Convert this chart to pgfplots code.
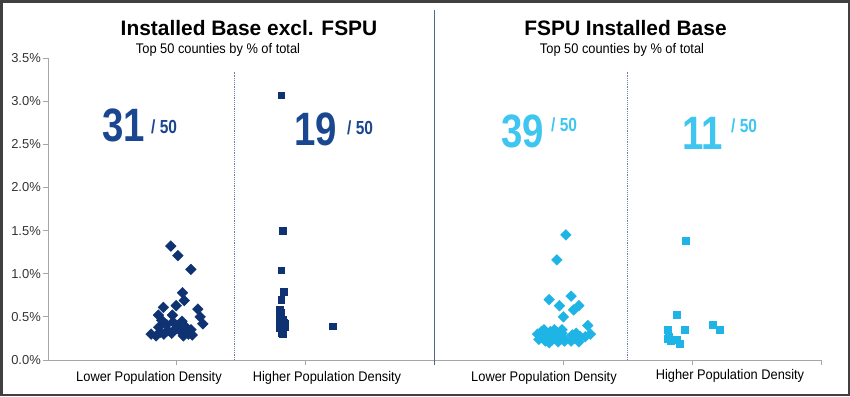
\documentclass[border=0pt]{standalone}
\usepackage{pgfplots}
\pgfplotsset{compat=1.18}
\usepackage{fontspec}
\setmainfont{Liberation Sans}
\newfontfamily\narrowfont[FakeStretch=0.92]{Liberation Sans}
\newfontfamily\bignumfont[FakeStretch=0.82]{Liberation Sans}
\definecolor{navy}{HTML}{0F3272}
\definecolor{navytxt}{HTML}{1A4790}
\definecolor{cyanm}{HTML}{1FB4E6}
\definecolor{cyantxt}{HTML}{3EC6F0}
\definecolor{divider}{HTML}{4A6A90}
\definecolor{dotcol}{HTML}{6A82A4}
\begin{document}
\begin{tikzpicture}
\begin{axis}[
  at={(48bp,-360bp)}, anchor=south west,
  scale only axis, width=773bp, height=302bp,
  xmin=0, xmax=6, ymin=0, ymax=3.5,
  axis lines*=left,
  axis line style={black!35, line width=0.8bp},
  xtick={1,2,3,4,5,6}, xticklabels={},
  ytick={0,0.5,1,1.5,2,2.5,3,3.5},
  yticklabels={0.0\%,0.5\%,1.0\%,1.5\%,2.0\%,2.5\%,3.0\%,3.5\%},
  tick align=outside, major tick length=5bp,
  tick style={black!35, line width=0.8bp},
  yticklabel style={font=\fontsize{13}{13}\selectfont, text=black!80, inner sep=2bp},
  clip=false,
]
% dividers
\addplot[divider, line width=1.2bp, forget plot] coordinates {(3,-0.06) (3,4.06)};
\addplot[dotcol, densely dotted, line width=1.2bp, forget plot] coordinates {(1.45,0) (1.45,3.34)};
\addplot[dotcol, densely dotted, line width=1.2bp, forget plot] coordinates {(4.5,0) (4.5,3.34)};
% Installed base excl FSPU, lower density (31)
\addplot[only marks, mark=square*, mark size=3.8bp, color=navy, mark options={rotate=45, fill=navy, draw=navy}] coordinates {
(0.953,1.32) (1.008,1.21) (1.109,1.05) (1.044,0.78) (1.057,0.69) (0.995,0.63)
(0.896,0.61) (1.163,0.59) (0.857,0.52) (1.181,0.50) (0.966,0.52) (1.202,0.42)
(0.883,0.46)
(0.80,0.30) (0.84,0.28) (0.87,0.32) (0.90,0.30) (0.93,0.34) (0.96,0.31)
(0.99,0.36) (1.01,0.40) (1.03,0.33) (1.05,0.28) (1.07,0.38) (1.09,0.30)
(1.11,0.35) (0.86,0.38) (0.92,0.41) (0.97,0.44) (1.04,0.45) (1.12,0.29)
};
% Installed base excl FSPU, higher density (19)
\addplot[only marks, mark=square*, mark size=3.3bp, color=navy, mark options={fill=navy, draw=navy}] coordinates {
(1.81,3.07) (1.82,1.50) (1.81,1.04) (1.83,0.79) (1.81,0.70) (1.80,0.59)
(1.81,0.55) (1.80,0.50) (1.82,0.47) (1.83,0.44) (1.84,0.42) (1.81,0.40)
(1.80,0.37) (1.82,0.35) (1.81,0.32) (1.82,0.30) (1.84,0.38) (1.80,0.45)
(2.21,0.39)
};
% FSPU, lower density (39)
\addplot[only marks, mark=square*, mark size=3.8bp, color=cyanm, mark options={rotate=45, fill=cyanm, draw=cyanm}] coordinates {
(4.02,1.45) (3.95,1.16) (4.06,0.74) (3.89,0.70) (3.97,0.63) (4.12,0.63)
(4.08,0.58) (4.00,0.50) (4.19,0.40) (4.21,0.30) (4.17,0.27)
(3.80,0.30) (3.81,0.24) (3.83,0.33) (3.84,0.27) (3.86,0.22) (3.87,0.31)
(3.88,0.26) (3.90,0.33) (3.91,0.23) (3.92,0.29) (3.94,0.25) (3.95,0.32)
(3.96,0.21) (3.97,0.28) (3.98,0.24) (3.99,0.31) (4.00,0.26) (4.01,0.22)
(3.85,0.35) (3.93,0.35) (3.89,0.20) (3.99,0.35)
(4.06,0.22) (4.07,0.29) (4.09,0.25) (4.10,0.31) (4.12,0.21) (4.13,0.27)
};
% FSPU, higher density (11)
\addplot[only marks, mark=square*, mark size=3.5bp, color=cyanm, mark options={fill=cyanm, draw=cyanm}] coordinates {
(4.95,1.38) (4.88,0.53) (4.81,0.35) (4.94,0.35) (5.16,0.41) (5.21,0.35)
(4.81,0.25) (4.83,0.22) (4.88,0.23) (4.90,0.19) (4.82,0.27)
};
\end{axis}
\begin{scope}[x=1bp, y=-1bp]
% titles
\node[anchor=base, inner sep=0, font=\fontsize{21}{21}\selectfont\bfseries] at (249,35) {Installed Base excl. FSPU};
\node[anchor=base, inner sep=0, font=\fontsize{21}{21}\selectfont\bfseries] at (625.5,35) {FSPU Installed Base};
\node[anchor=base, inner sep=0, font=\narrowfont\fontsize{14}{14}\selectfont] at (218,53) {Top 50 counties by \% of total};
\node[anchor=base, inner sep=0, font=\narrowfont\fontsize{14}{14}\selectfont] at (622,53) {Top 50 counties by \% of total};
% big numbers
\node[anchor=base west, inner sep=0, text=navytxt, font=\bignumfont\bfseries\fontsize{47}{47}\selectfont] at (102,141) {31};
\node[anchor=base west, inner sep=0, text=navytxt, font=\bignumfont\bfseries\fontsize{19}{19}\selectfont] at (151,133) {/ 50};
\node[anchor=base west, inner sep=0, text=navytxt, font=\bignumfont\bfseries\fontsize{47}{47}\selectfont] at (294,145) {19};
\node[anchor=base west, inner sep=0, text=navytxt, font=\bignumfont\bfseries\fontsize{19}{19}\selectfont] at (347,134) {/ 50};
\node[anchor=base west, inner sep=0, text=cyantxt, font=\bignumfont\bfseries\fontsize{47}{47}\selectfont] at (501,147) {39};
\node[anchor=base west, inner sep=0, text=cyantxt, font=\bignumfont\bfseries\fontsize{19}{19}\selectfont] at (551,131) {/ 50};
\node[anchor=base west, inner sep=0, text=cyantxt, font=\bignumfont\bfseries\fontsize{47}{47}\selectfont] at (682,149) {11};
\node[anchor=base west, inner sep=0, text=cyantxt, font=\bignumfont\bfseries\fontsize{19}{19}\selectfont] at (731,132) {/ 50};
% category labels
\node[anchor=base, inner sep=0, font=\narrowfont\fontsize{14}{14}\selectfont] at (149,381) {Lower Population Density};
\node[anchor=base, inner sep=0, font=\narrowfont\fontsize{14}{14}\selectfont] at (327,381) {Higher Population Density};
\node[anchor=base, inner sep=0, font=\narrowfont\fontsize{14}{14}\selectfont] at (544,381) {Lower Population Density};
\node[anchor=base, inner sep=0, font=\narrowfont\fontsize{14}{14}\selectfont] at (730,379) {Higher Population Density};
% frame
\draw[line width=2.5bp, black!75] (1.25,1.25) rectangle (848.75,394.75);
\pgfresetboundingbox
\path (0,0) rectangle (850,396);
\end{scope}
\end{tikzpicture}
\end{document}
